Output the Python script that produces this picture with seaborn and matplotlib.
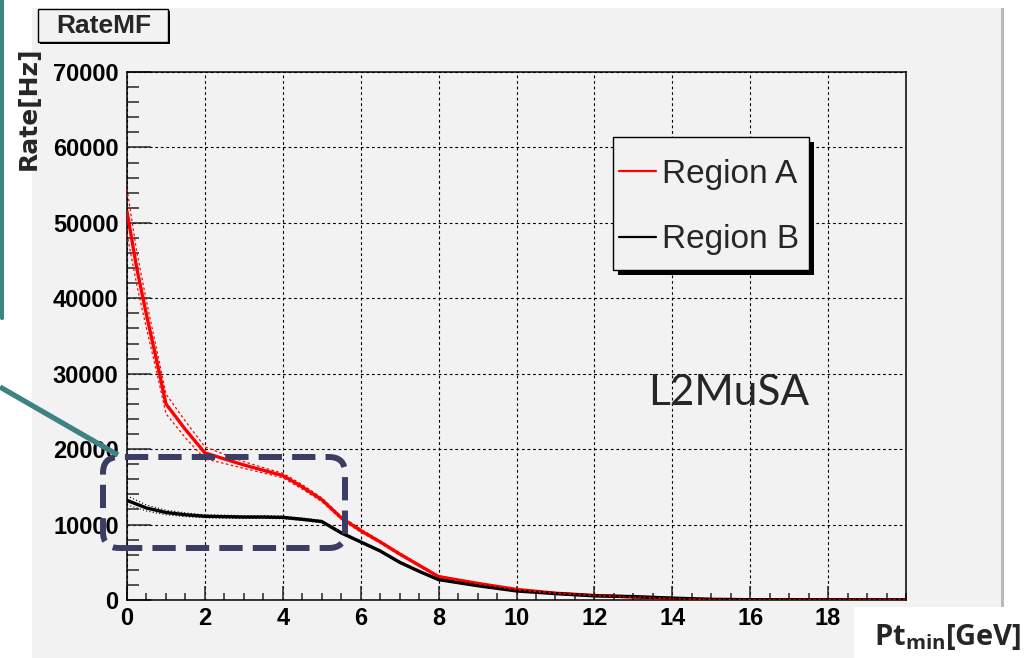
import numpy as np
import pandas as pd
import matplotlib
matplotlib.use("Agg")
import matplotlib.pyplot as plt
import seaborn as sns
from matplotlib.patches import Rectangle, FancyBboxPatch
from matplotlib.lines import Line2D
from matplotlib.ticker import MultipleLocator, FixedLocator
from matplotlib.transforms import IdentityTransform

# ---------------- data ----------------
pt = [0, 0.25, 0.5, 0.75, 1, 1.5, 2, 2.5, 3, 3.5, 4, 4.5, 5, 5.5, 6, 6.5, 7, 7.5, 8,
      9, 10, 11, 12, 13, 14, 15, 16, 17, 18, 19, 20]
rate_a = [51500, 44000, 37800, 32000, 26000, 22600, 19500, 18700, 17900, 17200, 16500,
          15000, 13300, 10900, 9200, 7700, 6100, 4600, 3100,
          2200, 1400, 900, 600, 400, 200, 70, 40, 30, 20, 15, 10]
rate_b = [13200, 12700, 12200, 11900, 11600, 11300, 11100, 11050, 11000, 11000, 10950,
          10700, 10400, 8900, 7700, 6500, 5000, 3800, 2700,
          1900, 1200, 850, 550, 450, 250, 80, 40, 30, 20, 15, 10]
err_a = [3000, 2200, 1800, 1500, 1300, 1100, 800, 600, 450, 350, 300, 300, 250, 200, 200,
         150, 150, 120, 100, 80, 60, 40, 30, 25, 20, 10, 8, 6, 5, 4, 3]
err_b = [600, 500, 400, 350, 300, 250, 200, 200, 180, 180, 170, 160, 150, 140, 130, 120,
         100, 90, 80, 60, 50, 40, 30, 25, 20, 10, 8, 6, 5, 4, 3]
regions = ["Region A", "Region B"]
x_ticks = [0, 2, 4, 6, 8, 10, 12, 14, 16, 18]
y_ticks = [0, 10000, 20000, 30000, 40000, 50000, 60000, 70000]
title_text = "RateMF"
ylabel_text = "Rate[Hz]"
annot_text = "L2MuSA"

# ---------------- style ----------------
sns.set_theme(style="ticks")
GRAY = "#f2f2f2"
TEAL = "#3f8284"
NAVY = "#3c3d63"
plt.rcParams["font.family"] = ["Liberation Sans", "DejaVu Sans"]
plt.rcParams["mathtext.fontset"] = "custom"
plt.rcParams["mathtext.bf"] = "Open Sans:bold"
plt.rcParams["mathtext.rm"] = "Open Sans"

W, H = 1028, 658
fig = plt.figure(figsize=(W / 100, H / 100), dpi=100, facecolor="white")


def fx(x):
    return x / W


def fy(y):
    return 1 - y / H


# canvas background (ROOT pad)
fig.add_artist(Rectangle((fx(32), 0), fx(1001) - fx(32), fy(8), transform=fig.transFigure,
                         facecolor=GRAY, edgecolor="none", zorder=-5))
fig.add_artist(Rectangle((fx(1001), 0), fx(1004) - fx(1001), fy(8), transform=fig.transFigure,
                         facecolor="#b8b8b8", edgecolor="none", zorder=-5))

ax = fig.add_axes([fx(127), fy(600), fx(906) - fx(127), fy(72) - fy(600)])
ax.set_facecolor(GRAY)

n = len(pt)
df = pd.DataFrame({
    "pt": pt * 2,
    "rate": rate_a + rate_b,
    "region": [regions[0]] * n + [regions[1]] * n,
})
sns.lineplot(data=df, x="pt", y="rate", hue="region",
             palette={regions[0]: "#ff0000", regions[1]: "black"},
             linewidth=2.4, ax=ax, legend=False, zorder=3)

pa = np.array(pt)
ra, rb = np.array(rate_a), np.array(rate_b)
ea, eb = np.array(err_a), np.array(err_b)
for sgn in (1, -1):
    ax.plot(pa, ra + sgn * ea, color="#ff0000", lw=0.9, ls=(0, (2, 2)), zorder=4)
    ax.plot(pa, rb + sgn * eb, color="black", lw=0.8, ls=(0, (1, 2)), zorder=4)

ax.set_xlim(0, 20)
ax.set_ylim(0, 70000)
ax.xaxis.set_major_locator(FixedLocator(x_ticks))
ax.yaxis.set_major_locator(FixedLocator(y_ticks))
ax.xaxis.set_minor_locator(MultipleLocator(0.5))
ax.yaxis.set_minor_locator(MultipleLocator(2000))
ax.set_xticklabels([str(v) for v in x_ticks])
ax.set_yticklabels([str(v) for v in y_ticks])
for lab in ax.get_xticklabels() + ax.get_yticklabels():
    lab.set_fontweight("bold")
    lab.set_fontsize(17)
    lab.set_color("black")
ax.tick_params(axis="x", which="major", direction="in", length=10, width=1.1, pad=5)
ax.tick_params(axis="x", which="minor", direction="in", length=5, width=1.1)
ax.tick_params(axis="y", which="major", direction="in", length=17, width=1.1, pad=6)
ax.tick_params(axis="y", which="minor", direction="in", length=8.5, width=1.1)
ax.grid(True, which="major", color="black", linestyle=(0, (2.5, 2.5)), linewidth=0.8)
for sp in ax.spines.values():
    sp.set_color("black")
    sp.set_linewidth(1.1)
ax.set_xlabel("")
ax.set_ylabel("")

# legend (frame drawn manually as ROOT box with shadow)
fig.add_artist(Rectangle((fx(618), fy(275)), fx(814) - fx(618), fy(142) - fy(275),
                         transform=fig.transFigure, facecolor="black", edgecolor="none", zorder=4))
fig.add_artist(Rectangle((fx(613), fy(270)), fx(809) - fx(613), fy(137) - fy(270),
                         transform=fig.transFigure, facecolor=GRAY, edgecolor="black",
                         linewidth=1.0, zorder=4.5))
handles = [Line2D([], [], color="#ff0000", lw=1.6), Line2D([], [], color="black", lw=1.6)]
leg = fig.legend(handles, regions, loc="upper left", bbox_to_anchor=(fx(619), fy(159)),
                 bbox_transform=fig.transFigure, frameon=False, fontsize=24,
                 handlelength=1.1, handletextpad=0.2, labelspacing=1.03,
                 borderpad=0, borderaxespad=0)
leg.set_zorder(5)

# title box
fig.add_artist(Rectangle((fx(40), fy(44)), fx(170) - fx(40), fy(11) - fy(44),
                         transform=fig.transFigure, facecolor="black", edgecolor="none", zorder=4))
fig.add_artist(Rectangle((fx(38), fy(42)), fx(168) - fx(38), fy(9) - fy(42),
                         transform=fig.transFigure, facecolor=GRAY, edgecolor="black",
                         linewidth=1.0, zorder=4.5))
fig.text(fx(104), fy(26), title_text, ha="center", va="center", fontsize=19,
         fontweight="bold", zorder=5)

# y-axis label
fig.text(fx(29), fy(47), ylabel_text, rotation=90, ha="center", va="top", fontsize=18,
         fontweight="bold", family="DejaVu Sans", zorder=5)

# annotation text
fig.text(fx(729), fy(393), annot_text, ha="center", va="center", fontsize=30.5,
         family="Lato", zorder=5)

# x-axis label on white box
fig.add_artist(Rectangle((fx(854), 0), 1 - fx(854), fy(607), transform=fig.transFigure,
                         facecolor="white", edgecolor="none", zorder=4))
fig.text(fx(874), fy(637), r"$\mathbf{Pt_{min}[GeV]}$", ha="left", va="center",
         fontsize=21, zorder=5)

# dashed rounded highlight box (pixel coordinates)
box = FancyBboxPatch((103, H - 548), 242, 91,
                     boxstyle="round,pad=0,rounding_size=16",
                     transform=IdentityTransform(), facecolor="none", edgecolor=NAVY,
                     linewidth=4.3, linestyle=(0, (3.9, 1.7)), zorder=6)
fig.add_artist(box)

# teal callout lines
fig.add_artist(Line2D([fx(0), fx(118)], [fy(387), fy(455)], transform=fig.transFigure,
                      color=TEAL, lw=3.8, solid_capstyle="butt", zorder=6))
fig.add_artist(Line2D([fx(1.5), fx(1.5)], [fy(0), fy(318)], transform=fig.transFigure,
                      color=TEAL, lw=3.0, solid_capstyle="round", zorder=6))

fig.savefig("out.png", dpi=100, facecolor="white")
